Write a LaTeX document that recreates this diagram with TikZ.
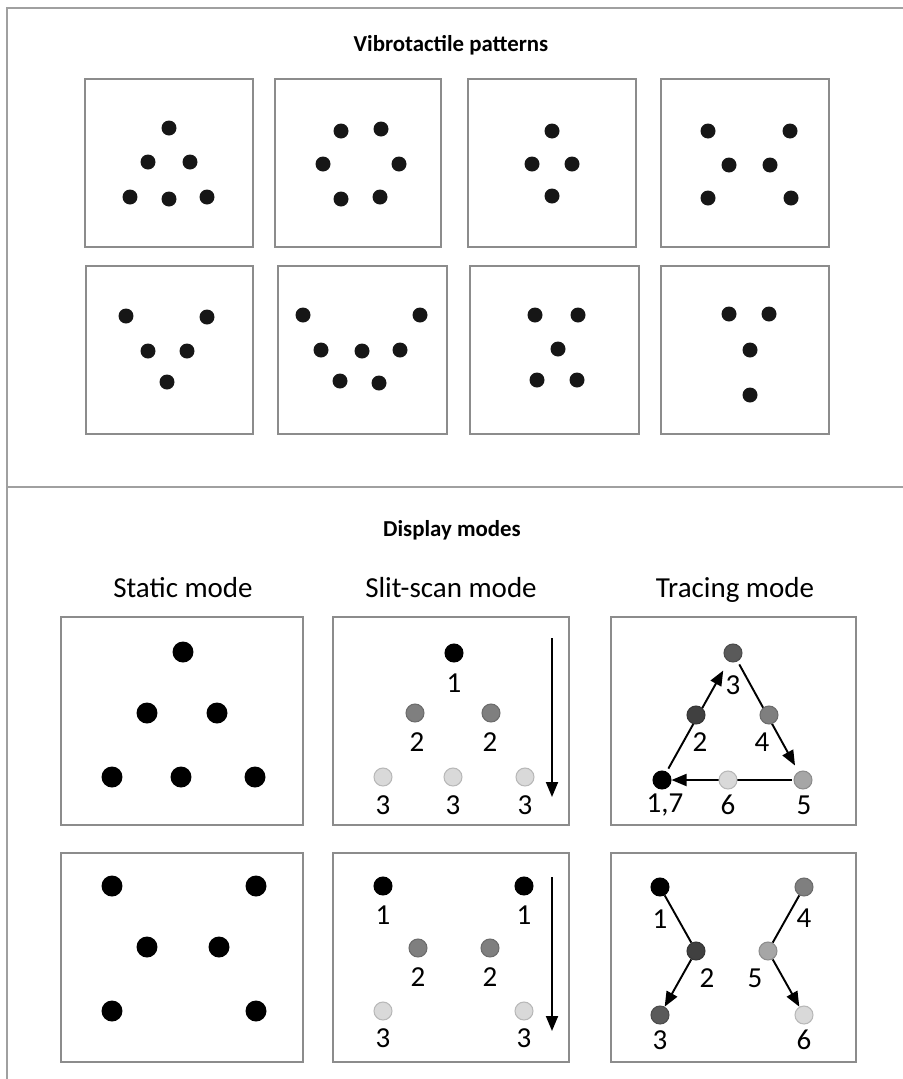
\documentclass[tikz,border=0pt]{standalone}
\usepackage{fontspec}
\setmainfont{Carlito}
\usepackage{tikz}
\usetikzlibrary{arrows.meta,positioning}
\definecolor{boxgray}{RGB}{140,140,140}
\definecolor{framegray}{RGB}{160,160,160}
\definecolor{dotblack}{RGB}{22,22,22}
\definecolor{shadeA}{RGB}{64,64,64}
\definecolor{shadeB}{RGB}{90,90,90}
\definecolor{shadeC}{RGB}{127,127,127}
\definecolor{shadeD}{RGB}{166,166,166}
\definecolor{shadeE}{RGB}{217,217,217}
\tikzstyle{panel} = [draw=boxgray, line width=1.4pt]
\tikzstyle{pdot} = [circle, fill=dotblack, inner sep=0pt, minimum size=0.3cm]
\tikzstyle{bigdot} = [circle, fill=black, inner sep=0pt, minimum size=0.42cm]
\tikzset{sdot/.style={circle, inner sep=0pt, minimum size=0.36cm, fill=#1, draw=#1!85!black, line width=0.6pt}}
\tikzstyle{num} = [font=\fontsize{16.5}{16.5}\selectfont, inner sep=0pt]
\tikzstyle{title} = [font=\fontsize{13}{13}\selectfont\bfseries]
\tikzstyle{mode} = [font=\fontsize{16.5}{16.5}\selectfont, anchor=base]
\tikzstyle{arrow} = [line width=1.1pt, -{Triangle[length=0.3cm,width=0.24cm]}]
\pgfdeclarelayer{bg}
\pgfsetlayers{bg,main}

\begin{document}
\begin{tikzpicture}[x=0.02cm, y=-0.02cm]
\useasboundingbox (0,0) rectangle (903,1079);
% Frame
\draw[framegray, line width=0.8pt] (7,1079) -- (7,8) -- (903,8);
\draw[framegray, line width=0.8pt] (7,487) -- (903,487);

% Vibrotactile patterns
\node[title] (toptitle) at (451,45) {Vibrotactile patterns};
\draw[panel] (85,79) rectangle (253,247);
\draw[panel] (275,79) rectangle (441,247);
\draw[panel] (468,79) rectangle (636,247);
\draw[panel] (661,79) rectangle (829,247);
\draw[panel] (86,266) rectangle (253,434);
\draw[panel] (278,266) rectangle (447,434);
\draw[panel] (470,266) rectangle (639,434);
\draw[panel] (661,266) rectangle (829,434);

\foreach \x/\y [count=\i] in {169/128,148/162,190/162,130/197,169/199,207/197}
  \node[pdot] (pa\i) at (\x,\y) {};
\foreach \x/\y [count=\i] in {341/131,381/129,323/164,399/164,341/199,380/197}
  \node[pdot] (pb\i) at (\x,\y) {};
\foreach \x/\y [count=\i] in {552/131,532/164,572/164,552/196}
  \node[pdot] (pc\i) at (\x,\y) {};
\foreach \x/\y [count=\i] in {708/131,790/131,729/165,770/165,708/198,791/198}
  \node[pdot] (pd\i) at (\x,\y) {};
\foreach \x/\y [count=\i] in {126/316,207/317,148/351,187/351,167/382}
  \node[pdot] (pe\i) at (\x,\y) {};
\foreach \x/\y [count=\i] in {303/315,420/315,321/350,362/351,400/350,340/381,379/383}
  \node[pdot] (pf\i) at (\x,\y) {};
\foreach \x/\y [count=\i] in {535/315,578/315,558/349,537/380,577/380}
  \node[pdot] (pg\i) at (\x,\y) {};
\foreach \x/\y [count=\i] in {729/314,769/314,750/350,750/395}
  \node[pdot] (ph\i) at (\x,\y) {};

% Display modes
\node[title] (bottitle) at (452,530) {Display modes};
\node[mode] (static) at (183,597) {Static mode};
\node[mode] (slit) at (451,597) {Slit-scan mode};
\node[mode] (tracing) at (735,597) {Tracing mode};

\draw[panel] (61,617) rectangle (303,825);
\draw[panel] (333,617) rectangle (569,825);
\draw[panel] (611,617) rectangle (856,825);
\draw[panel] (61,853) rectangle (303,1062);
\draw[panel] (333,853) rectangle (569,1062);
\draw[panel] (611,853) rectangle (856,1062);

% Static mode
\foreach \x/\y [count=\i] in {183/652,147/713,217/713,112/777,181/777,255/777}
  \node[bigdot] (sa\i) at (\x,\y) {};
\foreach \x/\y [count=\i] in {112/886,256/886,147/947,219/947,112/1011,256/1011}
  \node[bigdot] (sb\i) at (\x,\y) {};

% Slit-scan mode
\node[sdot=black] (ka1) at (454,653) {};
\node[sdot=shadeC] (ka2) at (415,713) {};
\node[sdot=shadeC] (ka3) at (491,713) {};
\node[sdot=shadeE] (ka4) at (383,777) {};
\node[sdot=shadeE] (ka5) at (453,777) {};
\node[sdot=shadeE] (ka6) at (525,777) {};
\node[num] at (454,683) {1};
\node[num] at (417,742) {2};
\node[num] at (490,742) {2};
\node[num] at (383,805) {3};
\node[num] at (453,805) {3};
\node[num] at (525,805) {3};
\coordinate (katop) at (552,638);
\coordinate (kabot) at (552,797);
\draw[arrow] (katop) -- (kabot);

\node[sdot=black] (kb1) at (383,886) {};
\node[sdot=black] (kb2) at (524,886) {};
\node[sdot=shadeC] (kb3) at (418,948) {};
\node[sdot=shadeC] (kb4) at (490,948) {};
\node[sdot=shadeE] (kb5) at (383,1011) {};
\node[sdot=shadeE] (kb6) at (524,1011) {};
\node[num] at (383,915) {1};
\node[num] at (524,915) {1};
\node[num] at (418,977) {2};
\node[num] at (490,977) {2};
\node[num] at (383,1038) {3};
\node[num] at (524,1038) {3};
\coordinate (kbtop) at (552,877);
\coordinate (kbbot) at (552,1031);
\draw[arrow] (kbtop) -- (kbbot);

% Tracing mode
\node[sdot=black] (ta1) at (662,780) {};
\node[sdot=shadeA] (ta2) at (696,715) {};
\node[sdot=shadeB] (ta3) at (733,653) {};
\node[sdot=shadeC] (ta4) at (769,715) {};
\node[sdot=shadeD] (ta5) at (803,780) {};
\node[sdot=shadeE] (ta6) at (728,780) {};
\node[num] at (665,805) {1,7};
\node[num] at (700,742) {2};
\node[num] at (733,685) {3};
\node[num] at (762,742) {4};
\node[num] at (804,805) {5};
\node[num] at (728,805) {6};
\begin{pgfonlayer}{bg}
\draw[arrow, shorten <=2pt, shorten >=6pt] (ta1) -- (ta3);
\draw[arrow, shorten <=2pt, shorten >=4pt] (ta3) -- (ta5);
\draw[arrow, shorten <=1pt] (ta5) -- (ta1);
\end{pgfonlayer}

\node[sdot=black] (tb1) at (660,887) {};
\node[sdot=shadeA] (tb2) at (696,951) {};
\node[sdot=shadeB] (tb3) at (660,1015) {};
\node[sdot=shadeC] (tb4) at (804,887) {};
\node[sdot=shadeD] (tb5) at (768,951) {};
\node[sdot=shadeE] (tb6) at (804,1015) {};
\node[num] at (660,919) {1};
\node[num] at (707,978) {2};
\node[num] at (660,1040) {3};
\node[num] at (804,918) {4};
\node[num] at (755,978) {5};
\node[num] at (804,1040) {6};
\begin{pgfonlayer}{bg}
\draw[line width=1.1pt] (tb1) -- (tb2);
\draw[arrow] (tb2) -- (tb3);
\draw[line width=1.1pt] (tb4) -- (tb5);
\draw[arrow] (tb5) -- (tb6);
\end{pgfonlayer}
\end{tikzpicture}
\end{document}
